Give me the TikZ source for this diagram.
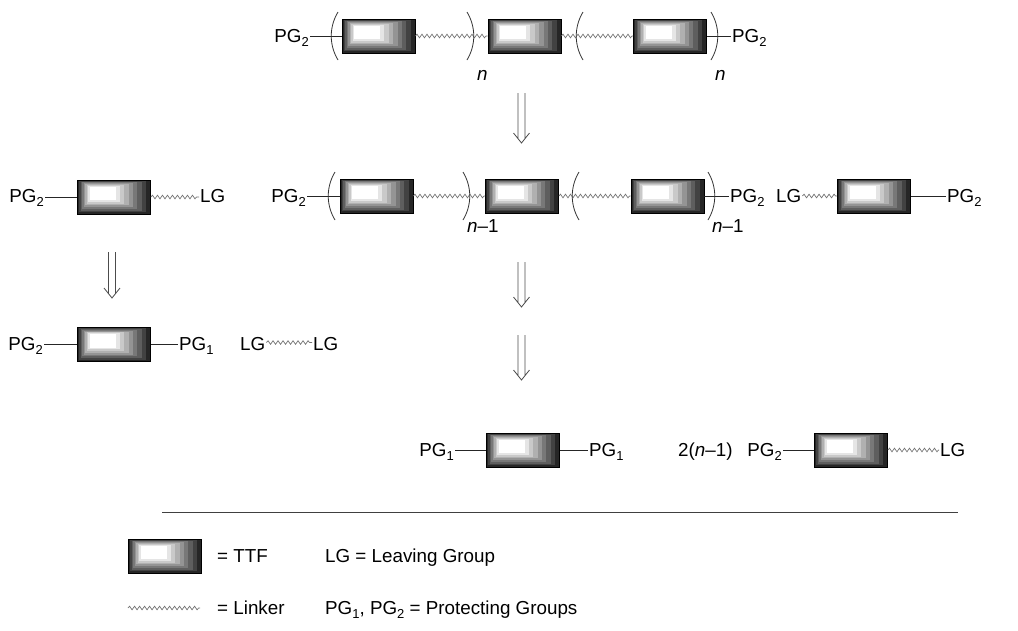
\documentclass[tikz,border=0pt]{standalone}
\usepackage{fontspec}
\setmainfont{Liberation Sans}
\usetikzlibrary{calc,decorations.pathmorphing}
\newcommand\subs[1]{\raisebox{-0.22em}{\fontsize{13}{13}\selectfont #1}}
\newcommand\fsz{\fontsize{18.8}{22}\selectfont}
\newcommand\retroarrow[3]{%
  \draw[arrline] ({#1-3.5},#2) -- ({#1-3.5},{#3-4.4})
                 ({#1+3.5},#2) -- ({#1+3.5},{#3-4.4})
                 ({#1-8},{#3-10}) -- (#1,#3) -- ({#1+8},{#3-10});}
\tikzset{
  ttf/.style={rectangle, draw=black, line width=0.8pt, minimum width=73pt,
    minimum height=34pt, inner sep=0pt, fill=black!80,
    path picture={
      \foreach \k in {0,...,8}{
        \pgfmathsetmacro\t{\k/8}
        \pgfmathtruncatemacro\c{85*(1-\t)}
        \fill[black!\c] ($(path picture bounding box.center)+({-36.5+12*\t},{-17+6.5*\t})$)
          rectangle ($(path picture bounding box.center)+({36.5-35*\t},{17-14*\t})$);
      }
    }},
  lbl/.style={inner sep=1pt, font=\fsz},
  bond/.style={draw=black!85, line width=0.8pt},
  linker/.style={draw=black!55, line width=0.7pt, decorate,
    decoration={snake, amplitude=1.8pt, segment length=5pt}},
  parenline/.style={draw=black!80, line width=0.8pt},
  arrline/.style={draw=black!70, line width=0.8pt},
  lp/.pic={\draw[parenline] (4,-24) .. controls (-5,-9) and (-5,9) .. (4,24);},
  rp/.pic={\draw[parenline] (-4,-24) .. controls (5,-9) and (5,9) .. (-4,24);}
}
\begin{document}
\begin{tikzpicture}[x=1pt,y=-1pt]
\useasboundingbox (0,0) rectangle (1018,630);

% ---------- top row ----------
\node[lbl, anchor=base east] (tpgL) at (310,42.5) {PG\subs{2}};
\node[ttf] (tb1) at (378.5,36) {};
\node[ttf] (tb2) at (524.5,36) {};
\node[ttf] (tb3) at (670,36) {};
\node[lbl, anchor=base west] (tpgR) at (731,42.5) {PG\subs{2}};
\draw[bond] (tpgL.east |- tb1.west) -- (tb1.west);
\draw[linker] (tb1.east) -- (tb2.west);
\draw[linker] (tb2.east) -- (tb3.west);
\draw[bond] (tb3.east) -- (tpgR.west |- tb3.east);
\pic at (334,36) {lp};
\pic at (471,36) {rp};
\pic at (579,36) {lp};
\pic at (715,36) {rp};
\node[lbl, anchor=base west, font=\fsz\itshape] (tn1) at (476,80) {n};
\node[lbl, anchor=base west, font=\fsz\itshape] (tn2) at (714,80) {n};

\retroarrow{521.5}{93}{143}

% ---------- second row ----------
\node[lbl, anchor=base east] (mpgL) at (307,202.5) {PG\subs{2}};
\node[ttf] (mb1) at (376.5,196) {};
\node[ttf] (mb2) at (522,196) {};
\node[ttf] (mb3) at (667.5,196) {};
\node[lbl, anchor=base west] (mpgR) at (729,202.5) {PG\subs{2}};
\draw[bond] (mpgL.east |- mb1.west) -- (mb1.west);
\draw[linker] (mb1.east) -- (mb2.west);
\draw[linker] (mb2.east) -- (mb3.west);
\draw[bond] (mb3.east) -- (mpgR.west |- mb3.east);
\pic at (331,196) {lp};
\pic at (467,196) {rp};
\pic at (575,196) {lp};
\pic at (712,196) {rp};
\node[lbl, anchor=base west] (mn1) at (466,232) {\textit{n}–1};
\node[lbl, anchor=base west] (mn2) at (711,232) {\textit{n}–1};

% left fragment
\node[lbl, anchor=base east] (lpg) at (45,202.5) {PG\subs{2}};
\node[ttf] (lb) at (114,197) {};
\node[lbl, anchor=base west] (llg) at (199,202.5) {LG};
\draw[bond] (lpg.east |- lb.west) -- (lb.west);
\draw[linker] (lb.east) -- (llg.west |- lb.east);

% right fragment
\node[lbl, anchor=base west] (rlg) at (775,202.5) {LG};
\node[ttf] (rb) at (874,196) {};
\node[lbl, anchor=base west] (rpg) at (946,202.5) {PG\subs{2}};
\draw[linker] (rlg.east |- rb.west) -- (rb.west);
\draw[bond] (rb.east) -- (rpg.west |- rb.east);

\retroarrow{112}{252}{298}
\retroarrow{521.5}{262}{307}
\retroarrow{521.5}{335}{380}

% ---------- third row (left) ----------
\node[lbl, anchor=base east] (spg2) at (44,350.5) {PG\subs{2}};
\node[ttf] (sb) at (114,344.5) {};
\node[lbl, anchor=base west] (spg1) at (178,350.5) {PG\subs{1}};
\draw[bond] (spg2.east |- sb.west) -- (sb.west);
\draw[bond] (sb.east) -- (spg1.west |- sb.east);
\node[lbl, anchor=base west] (slg1) at (239,350.5) {LG};
\node[lbl, anchor=base west] (slg2) at (312,350.5) {LG};
\draw[linker] ($(slg1.east)+(0,-1.5)$) -- ($(slg2.west)+(0,-1.5)$);

% ---------- bottom row ----------
\node[lbl, anchor=base east] (bpgL) at (455,456.5) {PG\subs{1}};
\node[ttf] (bb1) at (523,450) {};
\node[lbl, anchor=base west] (bpgR) at (588,456.5) {PG\subs{1}};
\draw[bond] (bpgL.east |- bb1.west) -- (bb1.west);
\draw[bond] (bb1.east) -- (bpgR.west |- bb1.east);
\node[lbl, anchor=base west] (bcoef) at (677,456.5) {2(\textit{n}–1)};
\node[lbl, anchor=base east] (bpg2) at (783,456.5) {PG\subs{2}};
\node[ttf] (bb2) at (851,450) {};
\node[lbl, anchor=base west] (blg) at (939,456.5) {LG};
\draw[bond] (bpg2.east |- bb2.west) -- (bb2.west);
\draw[linker] (bb2.east) -- (blg.west |- bb2.east);

% ---------- legend ----------
\coordinate (sepL) at (162,512);
\coordinate (sepR) at (958,512);
\draw[draw=black!75, line width=1pt] (sepL) -- (sepR);

\node[ttf] (legb) at (165,556) {};
\node[lbl, anchor=base west] (legttf) at (216,562) {= TTF};
\node[lbl, anchor=base west] (leglg) at (324,562) {LG = Leaving Group};
\coordinate (legl1) at (128,608);
\coordinate (legl2) at (200,608);
\draw[linker] (legl1) -- (legl2);
\node[lbl, anchor=base west] (leglink) at (216,614) {= Linker};
\node[lbl, anchor=base west] (legpg) at (324,614) {PG\subs{1}, PG\subs{2} = Protecting Groups};
\end{tikzpicture}
\end{document}
